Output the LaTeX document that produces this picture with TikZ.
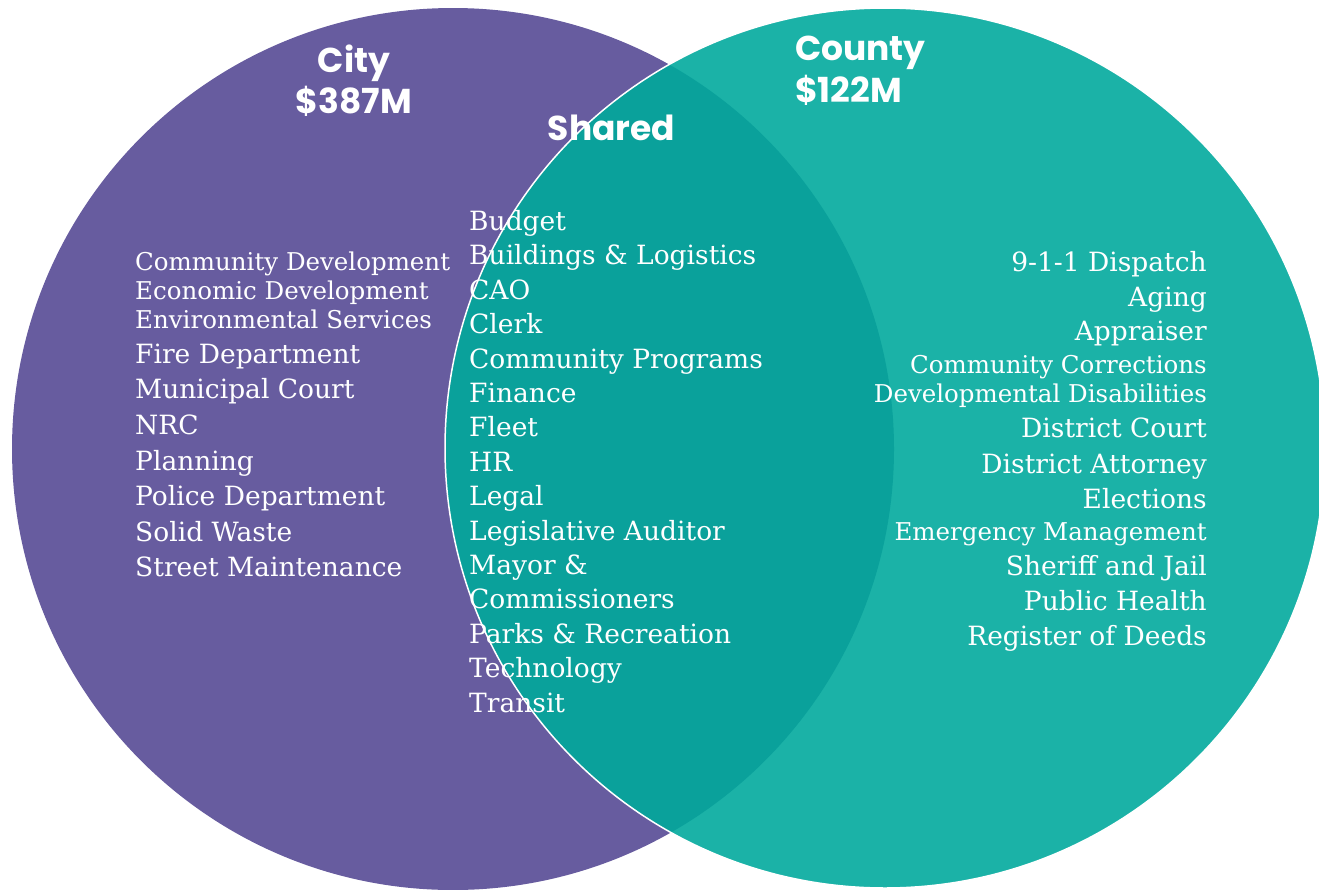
\documentclass[tikz,border=0pt]{standalone}
\usepackage{fontspec}
\setmainfont{DejaVu Serif}
\newfontfamily\titlefont{Poppins}
\definecolor{cityc}{RGB}{103,92,159}
\definecolor{countyc}{RGB}{27,178,167}
\definecolor{overlapc}{RGB}{10,161,155}
\tikzset{
  big/.style={text=white, inner sep=0pt, font=\fontsize{26.5}{28}\selectfont},
  small/.style={text=white, inner sep=0pt, font=\fontsize{24.5}{26}\selectfont},
  ttl/.style={text=white, inner sep=0pt, font=\titlefont\bfseries\fontsize{34.5}{36}\selectfont},
}
\begin{document}
\begin{tikzpicture}[x=1pt,y=-1pt]
\useasboundingbox (0,0) rectangle (1319,889);
\fill[cityc] (453,449) circle[radius=441pt];
\fill[countyc] (885,448) circle[radius=440pt];
\begin{scope}
  \clip (453,449) circle[radius=441pt];
  \fill[overlapc] (885,448) circle[radius=440pt];
\end{scope}
\draw[white, line width=1.5pt] (885,448) circle[radius=440pt];

% titles
\node[ttl, anchor=base] (city) at (354,72) {City};
\node[ttl, anchor=base] (citym) at (354,113) {\$387M};
\node[ttl, anchor=base] (shared) at (611.5,140) {Shared};
\node[ttl, anchor=base west] (county) at (795,60) {County};
\node[ttl, anchor=base west] (countym) at (795,102) {\$122M};

% city list
\node[small, anchor=base west] (c1) at (135,270) {Community Development};
\node[small, anchor=base west] (c2) at (135,299) {Economic Development};
\node[small, anchor=base west] (c3) at (135,328) {Environmental Services};
\node[big, anchor=base west] (c4) at (135,363) {Fire Department};
\node[big, anchor=base west] (c5) at (135,398.5) {Municipal Court};
\node[big, anchor=base west] (c6) at (135,434) {NRC};
\node[big, anchor=base west] (c7) at (135,470) {Planning};
\node[big, anchor=base west] (c8) at (135,505) {Police Department};
\node[big, anchor=base west] (c9) at (135,541) {Solid Waste};
\node[big, anchor=base west] (c10) at (135,576) {Street Maintenance};

% shared list
\node[big, anchor=base west] (s1) at (469,230.5) {Budget};
\node[big, anchor=base west] (s2) at (469,264.9) {Buildings \& Logistics};
\node[big, anchor=base west] (s3) at (469,299.3) {CAO};
\node[big, anchor=base west] (s4) at (469,333.7) {Clerk};
\node[big, anchor=base west] (s5) at (469,368.1) {Community Programs};
\node[big, anchor=base west] (s6) at (469,402.5) {Finance};
\node[big, anchor=base west] (s7) at (469,436.9) {Fleet};
\node[big, anchor=base west] (s8) at (469,471.3) {HR};
\node[big, anchor=base west] (s9) at (469,505.7) {Legal};
\node[big, anchor=base west] (s10) at (469,540.1) {Legislative Auditor};
\node[big, anchor=base west] (s11) at (469,574.5) {Mayor \&};
\node[big, anchor=base west] (s12) at (469,608.9) {Commissioners};
\node[big, anchor=base west] (s13) at (469,643.3) {Parks \& Recreation};
\node[big, anchor=base west] (s14) at (469,677.7) {Technology};
\node[big, anchor=base west] (s15) at (469,712.1) {Transit};

% county list
\node[big, anchor=base east] (k1) at (1207,271) {9-1-1 Dispatch};
\node[big, anchor=base east] (k2) at (1207,306) {Aging};
\node[big, anchor=base east] (k3) at (1207,340) {Appraiser};
\node[small, anchor=base east] (k4) at (1207,373) {Community Corrections};
\node[small, anchor=base east] (k5) at (1207,402) {Developmental Disabilities};
\node[big, anchor=base east] (k6) at (1207,437) {District Court};
\node[big, anchor=base east] (k7) at (1207,473) {District Attorney};
\node[big, anchor=base east] (k8) at (1207,508) {Elections};
\node[small, anchor=base east] (k9) at (1207,540) {Emergency Management};
\node[big, anchor=base east] (k10) at (1207,575) {Sheriff and Jail};
\node[big, anchor=base east] (k11) at (1207,610) {Public Health};
\node[big, anchor=base east] (k12) at (1207,645) {Register of Deeds};
\end{tikzpicture}
\end{document}
